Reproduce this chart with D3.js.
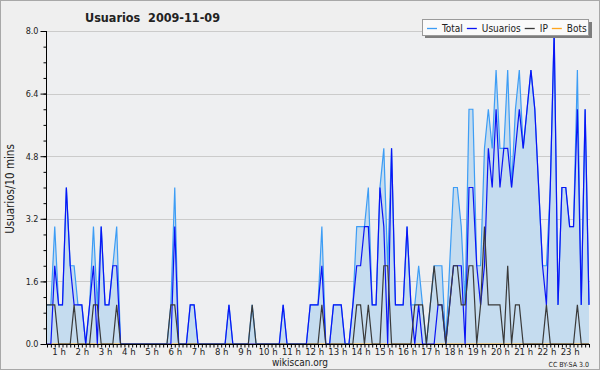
<!DOCTYPE html>
<html>
<head>
<meta charset="UTF-8">
<title>Usuarios 2009-11-09</title>
<script src="https://cdn.jsdelivr.net/npm/d3@7"></script>
<style>
  body { margin: 0; background: #fff; }
  svg text { font-family: "DejaVu Sans Condensed", "DejaVu Sans", sans-serif; font-stretch: condensed; fill: #222; }
</style>
</head>
<body>
<script>
// one value every 10 minutes, 00:00 .. 23:20
var usuarios = [
  0,0,2,1,1,4,2,1,1,1, 0,1,2,0,3,1,1,2,2,0,
  0,0,0,0,0,0,0,0,0,0, 0,0,0,3,0,0,0,1,1,0,
  0,0,0,0,0,0,0,1,0,0, 0,0,0,0,0,0,0,0,0,0,
  0,1,0,0,0,0,0,0,1,1, 1,2,0,0,1,1,1,0,0,1,
  2,2,3,3,1,1,4,3,0,5, 1,1,1,3,1,0,1,0,0,0,
  0,1,1,0,1,2,2,2,0,4, 4,2,1,2,5,4,6,4,5,5,
  4,5,6,5,6,7,6,4,2,1, 4,8,1,4,4,3,3,6,1,6,
  1
];
var ip = [
  1,1,1,0,0,0,0,1,0,0, 0,0,1,1,0,0,0,0,1,0,
  0,0,0,0,0,0,0,0,0,0, 0,0,1,1,0,0,0,0,0,0,
  0,0,0,0,0,0,0,0,0,0, 0,0,0,1,0,0,0,0,0,0,
  0,0,0,0,0,0,0,0,0,0, 0,1,0,0,0,0,0,0,0,0,
  1,1,0,1,0,0,0,2,2,0, 0,0,0,0,0,1,1,1,0,1,
  2,1,1,0,1,2,2,1,1,2, 2,0,1,3,1,1,1,1,0,2,
  0,1,1,0,0,0,0,0,0,1, 0,0,0,0,0,0,0,1,0,0,
  0
];
var total = [
  1,1,3,1,1,4,2,2,1,1, 0,1,3,1,3,1,1,2,3,0,
  0,0,0,0,0,0,0,0,0,0, 0,0,1,4,0,0,0,1,1,0,
  0,0,0,0,0,0,0,1,0,0, 0,0,0,1,0,0,0,0,0,0,
  0,1,0,0,0,0,0,0,1,1, 1,3,0,0,1,1,1,0,0,1,
  3,3,3,4,1,1,4,5,2,5, 1,1,1,3,1,1,2,1,0,1,
  2,2,2,0,2,4,4,3,1,6, 6,2,2,5,6,5,7,5,5,7,
  4,6,7,5,6,7,6,4,2,2, 4,8,1,4,4,3,3,7,1,6,
  1
];
var bots = [
  0,0,0,0,0,0,0,0,0,0, 0,0,0,0,0,0,0,0,0,0,
  0,0,0,0,0,0,0,0,0,0, 0,0,0,0,0,0,0,0,0,0,
  0,0,0,0,0,0,0,0,0,0, 0,0,0,0,0,0,0,0,0,0,
  0,0,0,0,0,0,0,0,0,0, 0,0,0,0,0,0,0,0,0,0,
  0,0,0,0,0,0,0,0,0,0, 0,0,0,0,0,0,0,0,0,0,
  0,0,0,0,0,0,0,0,0,0, 0,0,0,0,0,0,0,0,0,0,
  0,0,0,0,0,0,0,0,0,0, 0,0,0,0,0,0,0,0,0,0,
  0
];
var yLabels = [0, 1.6, 3.2, 4.8, 6.4, 8.0];
var hourLabels = ["1 h","2 h","3 h","4 h","5 h","6 h","7 h","8 h","9 h","10 h","11 h","12 h",
                  "13 h","14 h","15 h","16 h","17 h","18 h","19 h","20 h","21 h","22 h","23 h"];
var series = [
  { name: "Total",    values: total,    color: "#3d9df5" },
  { name: "Usuarios", values: usuarios, color: "#0a14f5" },
  { name: "IP",       values: ip,       color: "#3a3a3a" },
  { name: "Bots",     values: bots,     color: "#ffa51e" }
];

var width = 600, height = 370;
var svg = d3.select("body").append("svg")
  .attr("width", width)
  .attr("height", height);

svg.append("rect")
  .attr("x", 0.5).attr("y", 0.5)
  .attr("width", width - 1).attr("height", height - 1)
  .attr("fill", "#efefef")
  .attr("stroke", "#a8a8a8");

var x = d3.scaleLinear().domain([0, total.length - 1]).range([47, 589]);
var y = d3.scaleLinear().domain([0, 8]).range([344, 31]);

// plot area
svg.append("rect")
  .attr("x", 47).attr("y", 31)
  .attr("width", 543).attr("height", 313)
  .attr("fill", "#eeeff1");

// grid
svg.append("g").selectAll("line")
  .data(yLabels.slice(1))
  .enter().append("line")
  .attr("x1", 47).attr("x2", 590)
  .attr("y1", function(d){ return Math.round(y(d)) + 0.5; })
  .attr("y2", function(d){ return Math.round(y(d)) + 0.5; })
  .attr("stroke", "#cbcbcb");

// filled total
var area = d3.area()
  .x(function(d, i){ return x(i); })
  .y0(y(0))
  .y1(function(d){ return y(d); });
svg.append("path")
  .datum(total)
  .attr("d", area)
  .attr("fill", "#c5dcef");

var line = d3.line()
  .x(function(d, i){ return x(i); })
  .y(function(d){ return y(d); });

// draw order: bots, total, usuarios, ip
[series[3], series[0], series[1], series[2]].forEach(function(s){
  svg.append("path")
    .datum(s.values)
    .attr("d", line)
    .attr("fill", "none")
    .attr("stroke", s.color)
    .attr("stroke-width", 1.2)
    .attr("stroke-linejoin", "miter");
});

// x axis: a tick every 10 minutes
var xAxis = svg.append("g")
  .attr("transform", "translate(0,344.5)")
  .call(d3.axisBottom(x).tickValues(d3.range(0, total.length)).tickSize(3).tickFormat(""));
xAxis.select(".domain").attr("d", "M46.5,0H590");
xAxis.selectAll("line").attr("stroke", "#000");

var xLab = svg.append("g")
  .attr("transform", "translate(0,344)")
  .call(d3.axisBottom(x)
    .tickValues(hourLabels.map(function(d, i){ return (i + 1) * 6 - 3; }))
    .tickSize(0).tickPadding(4)
    .tickFormat(function(d, i){ return hourLabels[i]; }));
xLab.select(".domain").remove();
xLab.selectAll("text").attr("font-size", 9.5).attr("fill", "#222");

// y axis
var yAxis = svg.append("g")
  .attr("transform", "translate(46.5,0)")
  .call(d3.axisLeft(y).tickValues(d3.range(0, 8.01, 0.4)).tickSize(3).tickFormat(""));
yAxis.select(".domain").attr("d", "M0,31V344.5");
yAxis.selectAll("line").attr("stroke", "#000");

var yLab = svg.append("g")
  .attr("transform", "translate(46.5,0)")
  .call(d3.axisLeft(y).tickValues(yLabels).tickSize(6).tickPadding(2).tickFormat(d3.format(".1f")));
yLab.select(".domain").remove();
yLab.selectAll("line").attr("stroke", "#000");
yLab.selectAll("text").attr("font-size", 9).attr("fill", "#222");

// titles
svg.append("text")
  .attr("x", 85).attr("y", 22)
  .attr("font-size", 12.5).attr("font-weight", "bold")
  .attr("fill", "#111")
  .attr("xml:space", "preserve")
  .text("Usuarios  2009-11-09");

svg.append("text")
  .attr("transform", "translate(14,189) rotate(-90)")
  .attr("text-anchor", "middle")
  .attr("font-size", 11.5)
  .text("Usuarios/10 mins");

svg.append("text")
  .attr("x", 300).attr("y", 366)
  .attr("text-anchor", "middle")
  .attr("font-size", 10)
  .attr("fill", "#333")
  .text("wikiscan.org");

svg.append("text")
  .attr("x", 589).attr("y", 367)
  .attr("text-anchor", "end")
  .attr("font-size", 7)
  .attr("fill", "#444")
  .text("CC BY-SA 3.0");

// legend
var leg = svg.append("g");
leg.append("rect")
  .attr("x", 425).attr("y", 22)
  .attr("width", 167).attr("height", 16)
  .attr("fill", "#7d7d7d");
leg.append("rect")
  .attr("x", 422.5).attr("y", 19.5)
  .attr("width", 166).attr("height", 16)
  .attr("fill", "#fafafa")
  .attr("stroke", "#9a9a9a");
var cx = 427;
series.forEach(function(s){
  leg.append("line")
    .attr("x1", cx).attr("x2", cx + 10)
    .attr("y1", 28.5).attr("y2", 28.5)
    .attr("stroke", s.color).attr("stroke-width", 1.3);
  var t = leg.append("text")
    .attr("x", cx + 15).attr("y", 31.5)
    .attr("font-size", 10)
    .text(s.name);
  cx += 15 + t.node().getComputedTextLength() + 4;
});
</script>
</body>
</html>
